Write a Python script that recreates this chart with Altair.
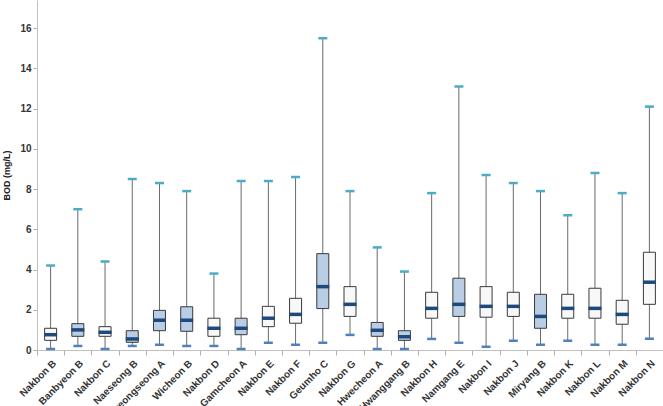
import altair as alt
import pandas as pd

# Monitoring sites along the river (mainstream "Nakbon" and tributaries)
sites = [
    "Nakbon B", "Banbyeon B", "Nakbon C", "Naeseong B", "Gyeongseong A",
    "Wicheon B", "Nakbon D", "Gamcheon A", "Nakbon E", "Nakbon F",
    "Geumho C", "Nakbon G", "Hwecheon A", "Hwanggang B", "Nakbon H",
    "Namgang E", "Nakbon I", "Nakbon J", "Miryang B", "Nakbon K",
    "Nakbon L", "Nakbon M", "Nakbon N",
]
# BOD summary statistics (mg/L)
minimum = [0.05, 0.2, 0.05, 0.2, 0.26, 0.2, 0.2, 0.05, 0.36, 0.26,
           0.36, 0.75, 0.05, 0.05, 0.55, 0.36, 0.16, 0.46, 0.26, 0.46,
           0.26, 0.26, 0.56]
q1 = [0.48, 0.68, 0.68, 0.38, 0.96, 0.93, 0.68, 0.76, 1.16, 1.33,
      2.06, 1.67, 0.68, 0.48, 1.58, 1.67, 1.63, 1.67, 1.08, 1.58,
      1.58, 1.28, 2.27]
median = [0.76, 1.0, 0.88, 0.55, 1.48, 1.48, 1.08, 1.08, 1.58, 1.77,
          3.15, 2.27, 0.98, 0.66, 2.07, 2.27, 2.17, 2.17, 1.67, 2.07,
          2.07, 1.77, 3.37]
q3 = [1.08, 1.31, 1.16, 0.96, 1.97, 2.15, 1.58, 1.58, 2.17, 2.57,
      4.79, 3.15, 1.37, 0.96, 2.87, 3.57, 3.15, 2.87, 2.77, 2.77,
      3.07, 2.47, 4.86]
maximum = [4.2, 7.0, 4.4, 8.5, 8.3, 7.9, 3.8, 8.4, 8.4, 8.6,
           15.5, 7.9, 5.1, 3.9, 7.8, 13.1, 8.7, 8.3, 7.9, 6.7,
           8.8, 7.8, 12.1]
site_type = ["main", "trib", "main", "trib", "trib", "trib", "main", "trib",
             "main", "main", "trib", "main", "trib", "trib", "main", "trib",
             "main", "main", "trib", "main", "main", "main", "main"]

df = pd.DataFrame({
    "site": sites, "min": minimum, "q1": q1, "median": median,
    "q3": q3, "max": maximum, "type": site_type,
})

FONT = "Liberation Sans"

x = alt.X(
    "site:N", sort=sites, title=None,
    scale=alt.Scale(paddingInner=0, paddingOuter=0),
    axis=alt.Axis(
        labelAngle=-45, labelAlign="right", labelBaseline="top",
        labelFont=FONT, labelFontSize=10, labelFontWeight="bold",
        labelColor="#333333", labelPadding=3,
        tickBand="extent", tickColor="#b0b0b0", tickSize=5,
        domainColor="#c0c0c0", labelOverlap=False,
    ),
)
y_scale = alt.Scale(domain=[0, 17.4], nice=False)
y_axis = alt.Axis(
    title="BOD (mg/L)", values=list(range(0, 17, 2)), grid=False,
    labelFont=FONT, labelFontSize=10, labelFontWeight="bold",
    labelColor="#333333", titleFont=FONT, titleFontSize=9,
    titleFontWeight="bold", titleColor="#222222", titlePadding=8,
    tickColor="#b0b0b0", tickSize=4, domainColor="#c0c0c0",
)

base = alt.Chart(df).encode(x=x)

whisker = base.mark_rule(color="#6a6a6a", strokeWidth=1).encode(
    y=alt.Y("min:Q", scale=y_scale, axis=y_axis), y2="max:Q"
)
box = base.mark_bar(size=12, stroke="#3a3a3a", strokeWidth=1, opacity=1).encode(
    y="q1:Q", y2="q3:Q",
    fill=alt.Fill("type:N", legend=None,
                  scale=alt.Scale(domain=["main", "trib"],
                                  range=["#f8f8f8", "#b9cde5"])),
)
med = base.mark_tick(color="#1f497d", thickness=3.5, size=13, opacity=1).encode(y="median:Q")
cap_hi = base.mark_tick(color="#4bacc6", thickness=2.5, size=9, opacity=1).encode(y="max:Q")
cap_lo = base.mark_tick(color="#4f81bd", thickness=2.5, size=9, opacity=1).encode(y="min:Q")

chart = (
    alt.layer(whisker, box, med, cap_hi, cap_lo)
    .properties(
        width=626, height=350,
        autosize=alt.AutoSizeParams(type="none"),
        padding={"left": 37, "top": 0, "right": 0, "bottom": 56},
        background="white",
    )
    .configure_view(stroke=None)
)

chart.save("out.html", embed_options={"renderer": "svg", "actions": False})
